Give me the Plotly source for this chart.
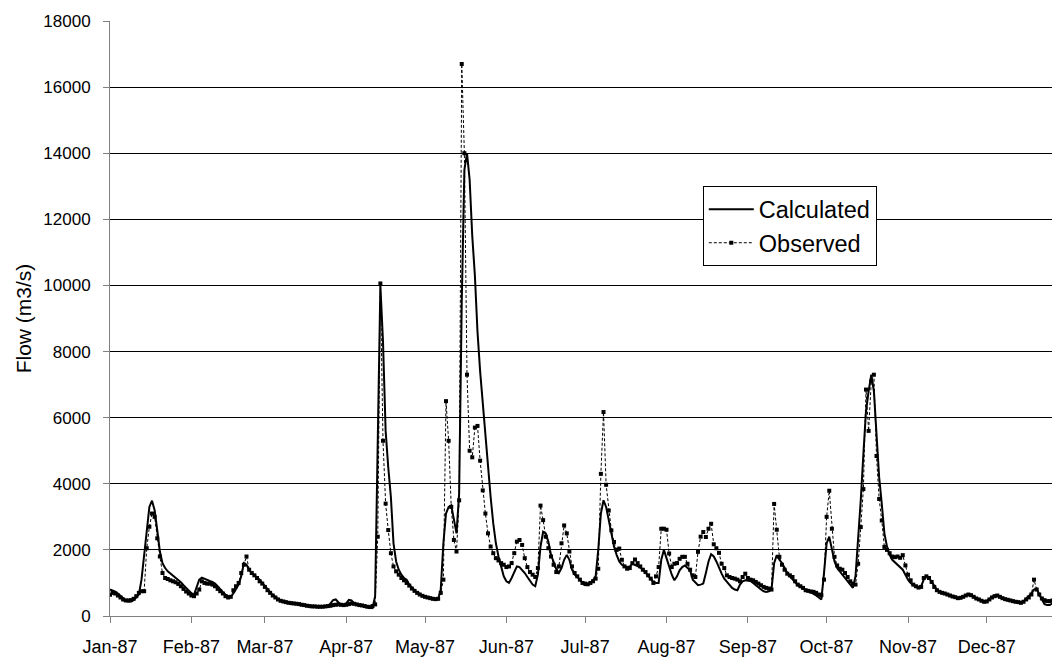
import pandas as pd
import plotly.graph_objects as go

# daily flow for 1987 (m3/s), one row per month
calculated = [
    800, 780, 740, 680, 600, 520, 470, 440, 440, 480, 560, 650, 1100, 1800, 2600, 3300,
    3490, 3200, 2600, 1950, 1600, 1450, 1350, 1280, 1220, 1150, 1100, 1020, 930, 840, 760,
    690, 640, 900, 1100, 1160, 1120, 1090, 1060, 1030, 980, 900, 800, 720, 650,
    600, 580, 680, 820, 950, 1200, 1600, 1550, 1400, 1300, 1230, 1150, 1100, 1000,
    900, 800, 720, 640, 570, 510, 470, 440, 420, 400, 390, 380, 370, 350, 330, 310,
    300, 290, 285, 280, 280, 280, 280, 280, 300, 380, 480, 500, 420, 330, 330,
    380, 490, 470, 380, 350, 330, 310, 290, 270, 250, 240, 600, 5500, 10000, 8300,
    5600, 4500, 3600, 2200, 1650, 1400, 1250, 1150, 1100, 950, 850, 780, 720, 660, 620,
    590, 560, 540, 520, 500, 510, 800, 2200, 3100, 3300, 3350, 2900, 2500, 3700, 9500,
    13500, 14000, 13200, 11500, 10300, 8600, 7400, 6400, 5400, 4500, 3600, 2800, 2200, 1800, 1450, 1200,
    1050, 1000, 1150, 1350, 1500, 1480, 1400, 1300, 1180, 1080, 950, 900, 1250, 2100, 2550,
    2500, 2250, 1850, 1600, 1420, 1300, 1450, 1700, 1850, 1700, 1400, 1250, 1180, 1100, 1000,
    930, 950, 1000, 1080, 1200, 2000, 3100, 3500, 3300, 2900, 2500, 2100, 1850, 1650, 1550,
    1500, 1480, 1500, 1580, 1550, 1500, 1470, 1400, 1300, 1200, 1100, 1030, 1000, 1000, 1700, 2000,
    1750, 1500, 1250, 1080, 1200, 1380, 1480, 1530, 1450, 1380, 1100, 1000, 930, 950, 980,
    1300, 1650, 1870, 1800, 1650, 1450, 1280, 1130, 1030, 930, 850, 800, 780, 950, 1050, 1080,
    1080, 1060, 1000, 930, 850, 800, 750, 730, 750, 800, 1600, 1840, 1700, 1600, 1450,
    1300, 1200, 1100, 1000, 930, 880, 830, 790, 760, 720, 680, 620, 560, 500, 1300,
    2200, 2400, 2000, 1650, 1450, 1350, 1250, 1150, 1050, 950, 850, 1200, 2300, 3500, 4900,
    6200, 6800, 7300, 6800, 5400, 4200, 3400, 2500, 2100, 1850, 1700, 1620, 1550, 1480, 1400, 1250,
    1100, 1000, 930, 880, 860, 900, 1100, 1200, 1150, 1030, 900, 800, 740, 700, 680,
    650, 620, 590, 560, 530, 540, 580, 630, 650, 620, 580, 530, 500, 460, 430,
    450, 520, 580, 620, 630, 580, 530, 500, 480, 470, 450, 430, 400, 380, 450,
    530, 600, 680, 800, 830, 650, 480, 360, 330, 330, 380, 430, 500, 550, 600, 620,
]

observed = [
    640, 700, 680, 620, 560, 500, 470, 470, 480, 520, 600, 700, 750, 750, 2050, 2700,
    3100, 3000, 2350, 1800, 1300, 1150, 1120, 1080, 1050, 1020, 970, 900, 820, 740, 680,
    620, 600, 680, 800, 1050, 1000, 980, 980, 950, 900, 820, 750, 680, 600,
    560, 580, 780, 900, 1000, 1300, 1550, 1800, 1400, 1300, 1230, 1150, 1050, 980,
    880, 780, 700, 620, 560, 500, 460, 440, 420, 400, 390, 380, 370, 360, 340, 330,
    310, 300, 290, 290, 280, 280, 280, 290, 300, 310, 330, 340, 350, 340, 330,
    340, 360, 380, 370, 350, 330, 320, 300, 280, 270, 300, 350, 2400, 10060, 5300,
    3400, 2600, 1900, 1500, 1350, 1250, 1150, 1080, 1000, 920, 830, 760, 700, 650, 610,
    580, 560, 540, 520, 510, 520, 700, 1100, 6500, 5300, 3300, 2300, 1950, 3500, 16700,
    14000, 7300, 5000, 4800, 5700, 5750, 4700, 3800, 3100, 2500, 2100, 1900, 1750, 1680, 1600, 1550,
    1480, 1500, 1600, 1900, 2250, 2300, 2150, 1750, 1480, 1330, 1250, 1180, 1450, 3340, 2900,
    2400, 2050, 1800, 1550, 1330, 1500, 2200, 2740, 2500, 1950, 1500, 1300, 1200, 1100, 1000,
    980, 960, 1000, 1050, 1130, 1430, 4300, 6170, 3970, 3190, 2590, 2240, 2000, 2040, 1700,
    1500, 1430, 1450, 1600, 1710, 1600, 1500, 1400, 1330, 1230, 1130, 1000, 1200, 1480, 2640, 2640,
    2610, 1890, 1480, 1580, 1600, 1730, 1790, 1790, 1580, 1400, 1230, 1180, 1940, 2400, 2540,
    2390, 2640, 2790, 2170, 2050, 1910, 1580, 1450, 1230, 1180, 1150, 1130, 1100, 1050, 1180, 1280,
    1150, 1100, 1080, 1030, 980, 930, 880, 850, 830, 800, 3390, 2610, 1790, 1550, 1400,
    1280, 1230, 1180, 1050, 950, 900, 850, 780, 760, 740, 730, 700, 650, 630, 1100,
    3000, 3790, 2640, 1790, 1530, 1430, 1400, 1300, 1180, 1050, 980, 950, 1580, 2690, 3840,
    6850, 5600, 7100, 7300, 4840, 3540, 2890, 2090, 2000, 1900, 1800, 1780, 1800, 1760, 1840, 1530,
    1250, 1080, 950, 900, 860, 880, 1150, 1200, 1150, 1030, 880, 780, 730, 700, 680,
    650, 620, 590, 570, 540, 550, 580, 620, 650, 630, 580, 530, 500, 460, 430,
    440, 500, 560, 600, 620, 580, 540, 510, 490, 470, 450, 430, 420, 400, 430,
    500, 560, 650, 1100, 800, 650, 530, 480, 450, 450, 470, 500, 530, 560, 580, 600,
]

days = pd.date_range('1987-01-01', periods=len(calculated), freq='D')

font = 'Liberation Sans, Arial, sans-serif'

fig = go.Figure()
fig.add_scatter(x=days, y=calculated, mode='lines', name='Calculated',
                line=dict(color='black', width=2))
fig.add_scatter(x=days, y=observed, mode='lines+markers', name='Observed',
                line=dict(color='black', width=1, dash='3px,2px'),
                marker=dict(symbol='square', size=4, color='black'))

# page body has an 8px margin, so the figure is a bit smaller than the window
fig.update_layout(
    width=1052, height=649,
    margin=dict(l=102, r=0, t=13, b=38),
    plot_bgcolor='white', paper_bgcolor='white',
    font=dict(family=font, color='black'),
    legend=dict(x=0.624, y=0.722, xanchor='left', yanchor='top',
                bgcolor='white', bordercolor='black', borderwidth=1,
                font=dict(size=23.5), tracegroupgap=0, itemwidth=45),
)
fig.update_xaxes(
    range=['1987-01-01', '1987-12-28 21:36'],
    dtick='M1', tick0='1987-01-01', tickformat='%b-%y',
    ticks='outside', ticklen=6, tickcolor='#808080',
    showline=True, linecolor='#808080', linewidth=1,
    showgrid=False, tickfont=dict(size=18), ticklabelstandoff=8,
)
fig.update_yaxes(
    range=[0, 18000], dtick=2000, tickformat='d',
    ticks='outside', ticklen=6, tickcolor='#808080',
    showline=True, linecolor='#808080', linewidth=1,
    showgrid=True, gridcolor='black', gridwidth=1, zeroline=False,
    tickfont=dict(size=17), ticklabelstandoff=9,
    title=dict(text='Flow (m3/s)', font=dict(size=21), standoff=5),
)

fig.write_html('out.html')
